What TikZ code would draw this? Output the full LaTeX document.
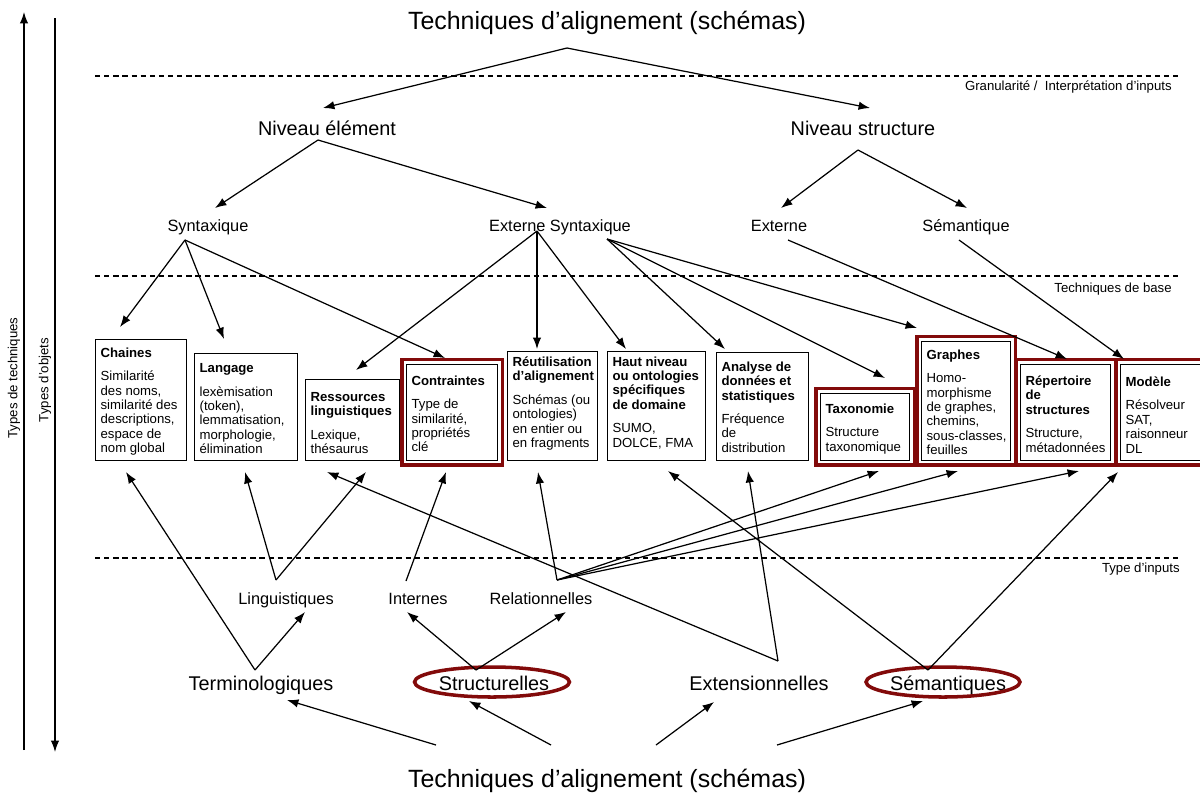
\documentclass[tikz,border=0pt]{standalone}
\usepackage{fontspec}
\setmainfont{Liberation Sans}
\usetikzlibrary{arrows.meta,shapes.geometric,calc}
\definecolor{dkred}{RGB}{130,10,10}
\newcommand{\bxt}[5]{\parbox[c][#2][t]{#1}{\fontsize{7.5}{8.2}\selectfont\raggedright\leftskip=2.8pt\vspace*{#3}\textbf{#4}\par\vspace{5.2pt}#5}}
\begin{document}
\begin{tikzpicture}[x=0.02cm,y=-0.02cm,
  arr/.style={line width=0.7pt,-{Latex[length=6.5pt,width=4.8pt]}},
  dline/.style={line width=0.6pt,dash pattern=on 3pt off 2.2pt},
  bx/.style={draw,line width=0.8pt,inner sep=0pt,anchor=south west},
  rframe/.style={draw=dkred,line width=2pt},
  ttl/.style={inner sep=0pt,anchor=base,font=\fontsize{14.2}{17}\selectfont},
  lv1/.style={inner sep=0pt,anchor=base,font=\fontsize{11.3}{13}\selectfont},
  lv2/.style={inner sep=0pt,anchor=base,font=\fontsize{9.3}{11}\selectfont},
  rlab/.style={inner sep=0pt,anchor=base east,font=\fontsize{7.5}{9}\selectfont},
  slab/.style={inner sep=0pt,rotate=90,font=\fontsize{7.5}{9}\selectfont}
]
\useasboundingbox (0,0) rectangle (1200,796);

% side arrows
\coordinate (sA1) at (24,750); \coordinate (sA2) at (24,12);
\coordinate (sB1) at (55,18); \coordinate (sB2) at (55,752);
\draw[arr] (sA1) -- (sA2);
\draw[arr] (sB1) -- (sB2);
\node[slab] (typtech) at (14,378) {Types de techniques};
\node[slab] (typobj) at (45,380) {Types d'objets};

% dashed separators
\draw[dline] (95,76) -- (1180,76);
\draw[dline] (95,276) -- (1180,276);
\draw[dline] (95,558) -- (1180,558);
\node[rlab] (granu) at (1172,90) {Granularité /~ Interprétation d'inputs};
\node[rlab] (tbase) at (1172,292) {Techniques de base};
\node[rlab] (tinp) at (1180,572) {Type d’inputs};

% titles and labels
\node[ttl] (ttop) at (607,29) {Techniques d’alignement (schémas)};
\node[ttl] (tbot) at (607,787) {Techniques d’alignement (schémas)};
\node[lv1] (ne) at (327,135) {Niveau élément};
\node[lv1] (ns) at (863,135) {Niveau structure};
\node[lv2] (syn) at (208,231) {Syntaxique};
\node[lv2] (extsyn) at (560,231) {Externe Syntaxique};
\node[lv2] (ext) at (779,231) {Externe};
\node[lv2] (sem) at (966,231) {Sémantique};
\node[lv2] (ling) at (286,604) {Linguistiques};
\node[lv2] (int) at (418,604) {Internes};
\node[lv2] (rel) at (541,604) {Relationnelles};
\node[lv1] (term) at (261,690) {Terminologiques};
\node[lv1] (struct) at (494,690) {Structurelles};
\node[lv1] (extens) at (759,690) {Extensionnelles};
\node[lv1] (semq) at (948,690) {Sémantiques};
\draw[rframe] ($(struct.base)+(-2,-8)$) ellipse [x radius=1.55cm, y radius=0.3cm];
\draw[rframe] ($(semq.base)+(-5,-8)$) ellipse [x radius=1.54cm, y radius=0.3cm];

% boxes
\node[bx] (chaines) at (95,461) {\bxt{1.82cm}{2.42cm}{4.7pt}{Chaines}{Similarité\\des noms,\\similarité des\\descriptions,\\espace de\\nom global}};
\node[bx] (langage) at (194,461) {\bxt{2.06cm}{2.14cm}{5.8pt}{Langage}{lexèmisation\\(token),\\lemmatisation,\\morphologie,\\élimination}};
\node[bx] (ress) at (305,461) {\bxt{1.88cm}{1.62cm}{7.3pt}{Ressources\\linguistiques}{Lexique,\\thésaurus}};
\node[bx] (contr) at (406,461) {\bxt{1.82cm}{1.92cm}{6.4pt}{Contraintes}{Type de\\similarité,\\propriétés\\clé}};
\node[bx] (reut) at (507,461) {\bxt{1.80cm}{2.18cm}{3pt}{Réutilisation\\d’alignement}{Schémas (ou\\ontologies)\\en entier ou\\en fragments}};
\node[bx] (haut) at (607,461) {\bxt{1.96cm}{2.18cm}{3pt}{Haut niveau\\ou ontologies\\spécifiques\\de domaine}{SUMO,\\DOLCE, FMA}};
\node[bx] (analyse) at (716,461) {\bxt{1.84cm}{2.16cm}{5.3pt}{Analyse de\\données et\\statistiques}{Fréquence\\de\\distribution}};
\node[bx] (taxo) at (820,461) {\bxt{1.78cm}{1.34cm}{5.8pt}{Taxonomie}{Structure\\taxonomique}};
\node[bx] (graph) at (921,461) {\bxt{1.78cm}{2.38cm}{4.7pt}{Graphes}{Homo-\\morphisme\\de graphes,\\chemins,\\sous-classes,\\feuilles}};
\node[bx] (repert) at (1020,461) {\bxt{1.80cm}{1.92cm}{6.4pt}{Répertoire\\de\\structures}{Structure,\\métadonnées}};
\node[bx] (modele) at (1120,461) {\bxt{1.62cm}{1.92cm}{7pt}{Modèle}{Résolveur\\SAT,\\raisonneur\\DL}};
\foreach \b in {contr,taxo,graph,repert,modele}
  \draw[rframe] ($(\b.south west)+(-4,4)$) rectangle ($(\b.north east)+(4,-4)$);

% apex and tip coordinates (top part)
\coordinate (aT) at (567,48);
\coordinate (tNE) at (323,108); \coordinate (tNS) at (870,108);
\coordinate (aNE) at (318,140);
\coordinate (tSyn) at (215,208); \coordinate (tExtSyn) at (547,208);
\coordinate (aNS) at (858,150);
\coordinate (tExt) at (781,208); \coordinate (tSem) at (967,208);
\coordinate (aSyn) at (185,240);
\coordinate (tCh1) at (120,327); \coordinate (tLa1) at (224,339); \coordinate (tCo1) at (445,358);
\coordinate (aES1) at (537,231);
\coordinate (tRe1) at (356,370); \coordinate (tRu1) at (537,349); \coordinate (tHa1) at (626,349);
\coordinate (aES2) at (607,239);
\coordinate (tAn1) at (725,349); \coordinate (tTa1) at (885,378); \coordinate (tGr1) at (917,328);
\coordinate (aExt) at (788,240); \coordinate (tRp1) at (1067,359);
\coordinate (aSem) at (959,240); \coordinate (tMo1) at (1124,359);

\draw[arr] (aT) -- (tNE);
\draw[arr] (aT) -- (tNS);
\draw[arr] (aNE) -- (tSyn);
\draw[arr] (aNE) -- (tExtSyn);
\draw[arr] (aNS) -- (tExt);
\draw[arr] (aNS) -- (tSem);
\draw[arr] (aSyn) -- (tCh1);
\draw[arr] (aSyn) -- (tLa1);
\draw[arr] (aSyn) -- (tCo1);
\draw[arr] (aES1) -- (tRe1);
\draw[arr] (aES1) -- (tRu1);
\draw[arr] (aES1) -- (tHa1);
\draw[arr] (aES2) -- (tAn1);
\draw[arr] (aES2) -- (tTa1);
\draw[arr] (aES2) -- (tGr1);
\draw[arr] (aExt) -- (tRp1);
\draw[arr] (aSem) -- (tMo1);

% bottom part
\coordinate (aTerm) at (255,670);
\coordinate (tCh2) at (126,472); \coordinate (tLing) at (305,612);
\coordinate (aLing) at (276,580);
\coordinate (tLa2) at (245,472); \coordinate (tRe2) at (366,472);
\coordinate (aInt) at (406,581); \coordinate (tCo2) at (446,472);
\coordinate (aRel) at (557,580);
\coordinate (tRu2) at (538,472); \coordinate (tTa2) at (879,471); \coordinate (tGr2) at (958,471); \coordinate (tRp2) at (1079,471);
\coordinate (aStr) at (476,670);
\coordinate (tInt) at (407,612); \coordinate (tRel) at (566,612);
\coordinate (aExtn) at (778,661);
\coordinate (tRe3) at (327,472); \coordinate (tAn2) at (748,471);
\coordinate (aSemq) at (928,670);
\coordinate (tHa2) at (668,471); \coordinate (tMo2) at (1118,472);
\coordinate (b1) at (436,745); \coordinate (tTerm) at (287,700);
\coordinate (b2) at (551,745); \coordinate (tStr) at (469,701);
\coordinate (b3) at (656,745); \coordinate (tExtn) at (714,702);
\coordinate (b4) at (777,745); \coordinate (tSemq) at (923,701);

\draw[arr] (aTerm) -- (tCh2);
\draw[arr] (aTerm) -- (tLing);
\draw[arr] (aLing) -- (tLa2);
\draw[arr] (aLing) -- (tRe2);
\draw[arr] (aInt) -- (tCo2);
\draw[arr] (aRel) -- (tRu2);
\draw[arr] (aRel) -- (tTa2);
\draw[arr] (aRel) -- (tGr2);
\draw[arr] (aRel) -- (tRp2);
\draw[arr] (aStr) -- (tInt);
\draw[arr] (aStr) -- (tRel);
\draw[arr] (aExtn) -- (tRe3);
\draw[arr] (aExtn) -- (tAn2);
\draw[arr] (aSemq) -- (tHa2);
\draw[arr] (aSemq) -- (tMo2);
\draw[arr] (b1) -- (tTerm);
\draw[arr] (b2) -- (tStr);
\draw[arr] (b3) -- (tExtn);
\draw[arr] (b4) -- (tSemq);
\end{tikzpicture}
\end{document}
